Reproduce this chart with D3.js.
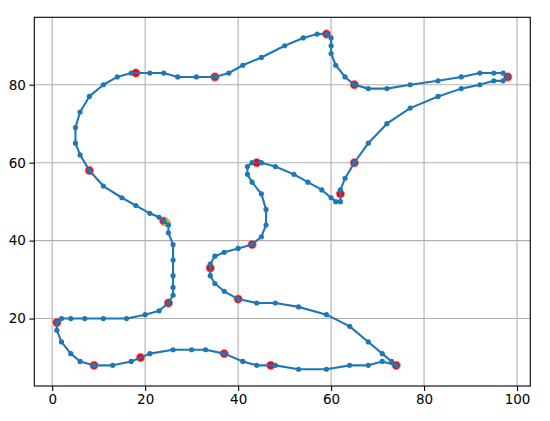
<!DOCTYPE html>
<html>
<head>
<meta charset="utf-8">
<script src="https://cdn.jsdelivr.net/npm/d3@7/dist/d3.min.js"></script>
<style>
  body { margin: 0; background: #fff; }
  svg text { font-family: "DejaVu Sans", sans-serif; font-size: 13.5px; fill: #000; }
</style>
</head>
<body>
<div id="chart"></div>
<script>
// tour vertices (blue dots), in order, closed back to the start
var tour = [
  [24,45],[23,46],[21,47],[18,49],[15,51],[11,54],[8,58],[6,62],[5,65],[5,69],
  [6,73],[8,77],[11,80],[14,82],[17,83],[21,83],[24,83],[27,82],[31,82],[35,82],
  [38,83],[41,85],[45,87],[50,90],[54,92],[57,93],[59,93],[60,92],[60,90],[60,88],
  [61,85],[63,82],[65,80],[68,79],[72,79],[77,80],[83,81],[88,82],[92,83],[95,83],
  [97,83],[98,82],[97,81],[95,81],[92,80],[88,79],[83,77],[77,74],[72,70],[68,65],
  [65,60],[63,56],[62,53],[62,50],[61,50],[60,51],[58,53],[55,55],[52,57],[48,59],
  [45,60],[43,60],[42,59],[42,57],[43,55],[45,52],[46,48],[46,44],[45,41],[43,39],
  [40,38],[37,37],[35,36],[34,34],[34,31],[35,29],[37,27],[40,25],[44,24],[48,24],
  [53,23],[59,21],[64,18],[68,14],[71,11],[73,9],[74,8],[71,9],[68,8],[64,8],
  [59,7],[53,7],[48,8],[44,8],[41,9],[37,11],[33,12],[30,12],[26,12],[21,11],
  [17,9],[13,8],[9,8],[6,9],[4,11],[2,14],[1,17],[1,19],[2,20],[4,20],
  [7,20],[11,20],[16,20],[20,21],[23,22],[25,24],[26,26],[26,28],[26,31],[26,35],
  [26,39],[25,42],[25,44],[24,45]
];

// highlighted waypoints (red)
var waypoints = [
  [8,58],[18,83],[35,82],[59,93],[65,80],[98,82],[65,60],[62,52],[44,60],[43,39],
  [34,33],[40,25],[74,8],[47,8],[37,11],[19,10],[9,8],[1,19],[25,24],[24,45]
];

// start marker (yellow)
var startPoint = [[24.6,44.6]];

var xTicks = [0, 20, 40, 60, 80, 100];
var yTicks = [20, 40, 60, 80];

var W = 550, H = 421;
var mLeft = 34.3, mRight = 530.3, mTop = 17.3, mBottom = 386;

var svg = d3.select("#chart").append("svg")
  .attr("width", W).attr("height", H);

// 5% padding round the data range, like matplotlib autoscale
var xs = tour.map(function(d) { return d[0]; });
var ys = tour.map(function(d) { return d[1]; });
var xmin = d3.min(xs), xmax = d3.max(xs);
var ymin = d3.min(ys), ymax = d3.max(ys);
var xpad = (xmax - xmin) * 0.05, ypad = (ymax - ymin) * 0.05;

var x = d3.scaleLinear().domain([xmin - xpad, xmax + xpad]).range([mLeft, mRight]);
var y = d3.scaleLinear().domain([ymin - ypad, ymax + ypad]).range([mBottom, mTop]);

// grid
svg.append("g").selectAll("line").data(xTicks).enter().append("line")
  .attr("x1", function(d) { return x(d); }).attr("x2", function(d) { return x(d); })
  .attr("y1", mTop).attr("y2", mBottom)
  .style("stroke", "#b0b0b0").style("stroke-width", 1.1);
svg.append("g").selectAll("line").data(yTicks).enter().append("line")
  .attr("y1", function(d) { return y(d); }).attr("y2", function(d) { return y(d); })
  .attr("x1", mLeft).attr("x2", mRight)
  .style("stroke", "#b0b0b0").style("stroke-width", 1.1);

// red waypoints go under the path
svg.append("g").selectAll("circle").data(waypoints).enter().append("circle")
  .attr("cx", function(d) { return x(d[0]); })
  .attr("cy", function(d) { return y(d[1]); })
  .attr("r", 4.2)
  .style("fill", "red")
  .style("stroke", "#ff8080").style("stroke-width", 0.8);

svg.append("g").selectAll("circle").data(startPoint).enter().append("circle")
  .attr("cx", function(d) { return x(d[0]); })
  .attr("cy", function(d) { return y(d[1]); })
  .attr("r", 4.2)
  .style("fill", "#bcbd22");

var line = d3.line()
  .x(function(d) { return x(d[0]); })
  .y(function(d) { return y(d[1]); });

svg.append("path").datum(tour)
  .attr("d", line)
  .style("fill", "none")
  .style("stroke", "#1f77b4")
  .style("stroke-width", 2.1)
  .style("stroke-linejoin", "round");

svg.append("g").selectAll("circle").data(tour).enter().append("circle")
  .attr("cx", function(d) { return x(d[0]); })
  .attr("cy", function(d) { return y(d[1]); })
  .attr("r", 2.6)
  .style("fill", "#1f77b4");

// axes
var xAxis = d3.axisBottom(x).tickValues(xTicks).tickSize(4.9).tickPadding(3.5).tickFormat(d3.format("d"));
var yAxis = d3.axisLeft(y).tickValues(yTicks).tickSize(4.9).tickPadding(3.5).tickFormat(d3.format("d"));

var gx = svg.append("g").attr("transform", "translate(0," + mBottom + ")").call(xAxis);
var gy = svg.append("g").attr("transform", "translate(" + mLeft + ",0)").call(yAxis);
[gx, gy].forEach(function(g) {
  g.select(".domain").remove();
  g.selectAll(".tick line").style("stroke", "#000").style("stroke-width", 1.1);
  g.selectAll(".tick text").style("font-family", "DejaVu Sans").style("font-size", "13.5px");
});

// frame
svg.append("rect")
  .attr("x", mLeft).attr("y", mTop)
  .attr("width", mRight - mLeft).attr("height", mBottom - mTop)
  .style("fill", "none").style("stroke", "#000").style("stroke-width", 1.1);
</script>
</body>
</html>
